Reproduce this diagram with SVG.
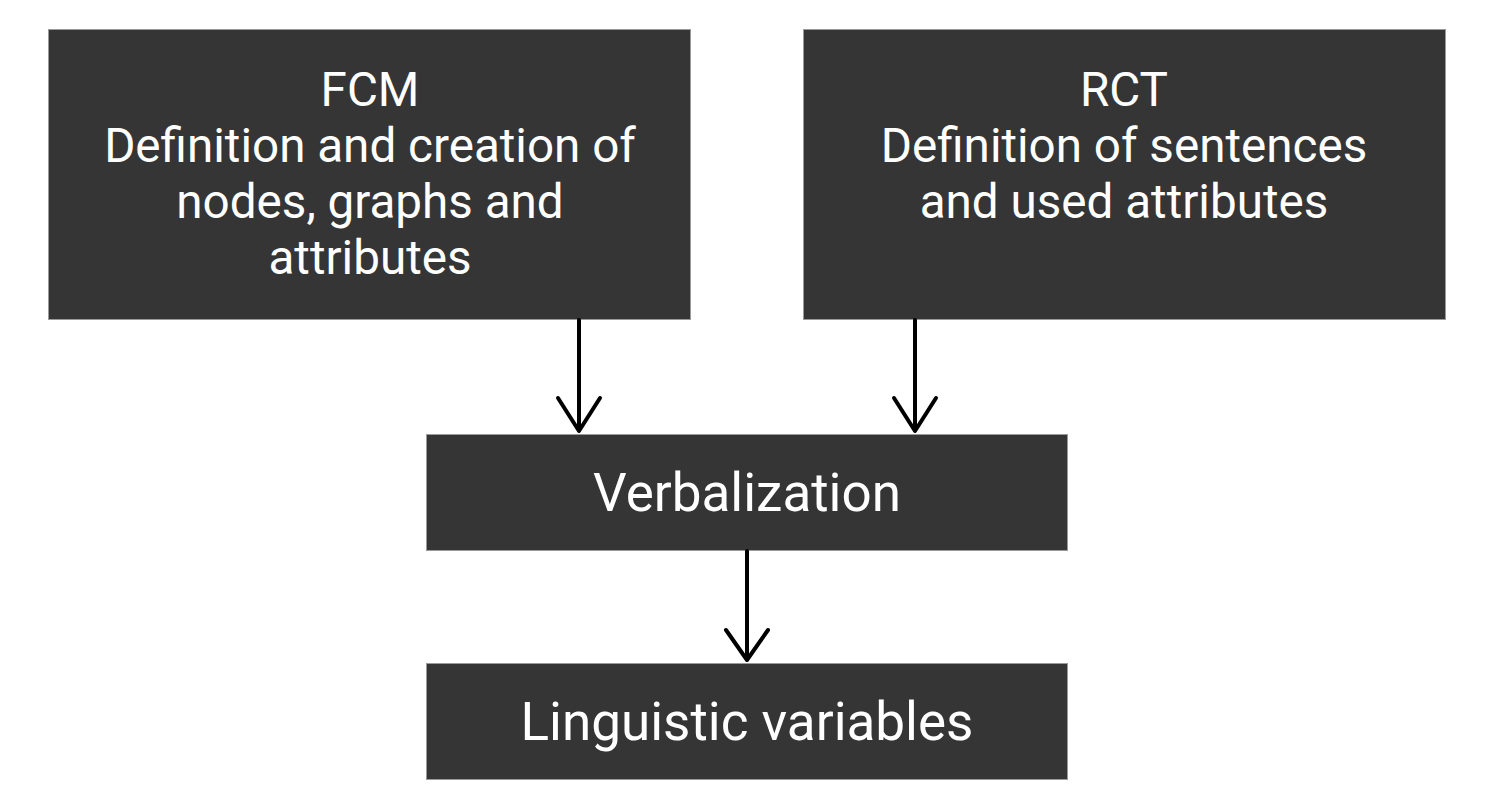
<svg xmlns="http://www.w3.org/2000/svg" width="1496" height="812" viewBox="0 0 1496 812">
<style>
.box{fill:#353535;stroke:#9a9a9a;stroke-width:1}
.t{font-family:Roboto,"Liberation Sans",sans-serif;font-size:47.6px;fill:#ffffff;text-anchor:middle}
.b{font-size:53px}
.c{stroke:#000;stroke-width:4;fill:none;stroke-linecap:round;stroke-linejoin:round}
</style>
<rect width="1496" height="812" fill="#ffffff"/>
<g id="fcm">
<rect class="box" x="48.5" y="29.5" width="642" height="290"/>
<text class="t" x="370" y="106">FCM</text>
<text class="t" x="370" y="162">Definition and creation of</text>
<text class="t" x="370" y="218">nodes, graphs and</text>
<text class="t" x="370" y="274">attributes</text>
</g>
<g id="rct">
<rect class="box" x="803.5" y="29.5" width="642" height="290"/>
<text class="t" x="1124" y="106">RCT</text>
<text class="t" x="1124" y="162">Definition of sentences</text>
<text class="t" x="1124" y="218">and used attributes</text>
</g>
<g id="verbalization">
<rect class="box" x="426.5" y="434.5" width="641" height="116"/>
<text class="t b" x="747" y="511">Verbalization</text>
</g>
<g id="linguistic">
<rect class="box" x="426.5" y="663.5" width="641" height="116"/>
<text class="t b" x="747" y="740">Linguistic variables</text>
</g>
<g id="connectors">
<path class="c" d="M579 320V430M558 398L579 431L600 398"/>
<path class="c" d="M915 320V430M894 398L915 431L936 398"/>
<path class="c" d="M747 551V659M726 630L747 660L768 630"/>
</g>
</svg>
